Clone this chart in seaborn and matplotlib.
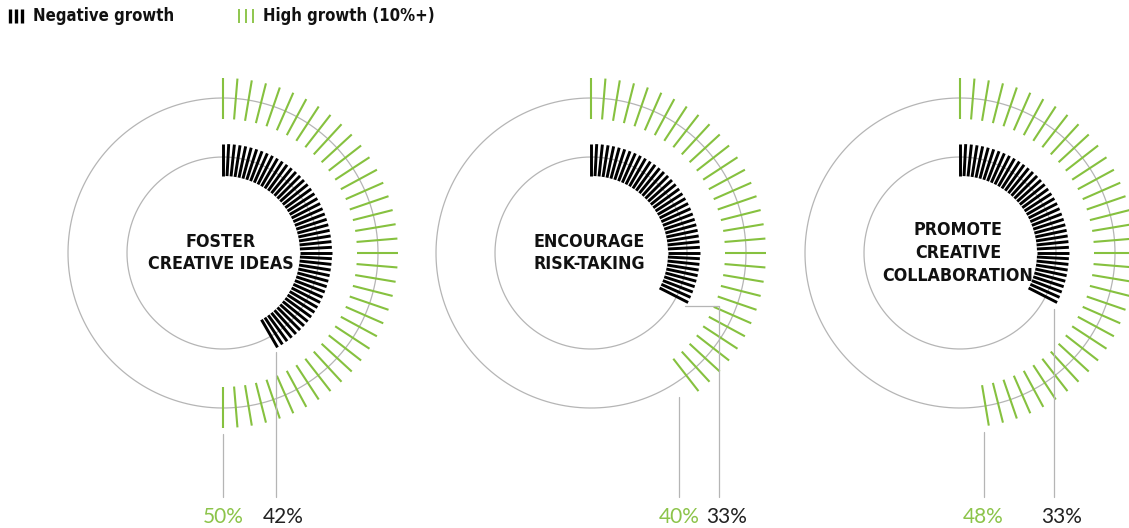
import numpy as np
import pandas as pd
import matplotlib.pyplot as plt
import matplotlib.font_manager as fm
import seaborn as sns

# chart data
categories = ["FOSTER\nCREATIVE IDEAS", "ENCOURAGE\nRISK-TAKING", "PROMOTE\nCREATIVE\nCOLLABORATION"]
high_growth = [50, 40, 48]       # % of firms, outer green ring
negative_growth = [42, 33, 33]   # % of firms, inner black ring
legend_labels = ["Negative growth", "High growth (10%+)"]

GREEN = "#86c13f"
GREEN_TXT = "#8cc44a"
GRAY = "#b5b5b5"

# look for a narrow/condensed bold face, fall back to Roboto bold
cond = [f for f in fm.fontManager.ttflist
        if ("Narrow" in f.name or "Condensed" in f.name or "Condensed" in f.fname
            or f.stretch in ("condensed", "semi-condensed"))]
cond_bold = [f for f in cond if f.weight in ("bold", 700, "heavy")] or cond
if cond_bold:
    COND = fm.FontProperties(fname=cond_bold[0].fname)
    cond_scale = 1.0
else:
    COND = fm.FontProperties(family="Roboto", weight="bold")
    cond_scale = 0.88

# layout (pixels)
centers_x = [223, 591, 960]
cy = 253
r_outer, r_inner = 155, 96
green_span = (134, 175)
black_span = (77, 109)
green_step = 360 / 76   # degrees between green ticks
black_step = 3.0        # degrees between black ticks
elbow_x = [None, 719, None]
label_y = 517
leader_bottom = 497


def tick_frame(cx, pct, step, r0, r1):
    angles = np.arange(0, pct / 100 * 360 + 1e-6, step)
    rows = []
    for i, a in enumerate(np.deg2rad(angles)):
        for r in (r0, r1):
            rows.append({"x": cx + r * np.sin(a), "y": cy - r * np.cos(a), "seg": i})
    return pd.DataFrame(rows), np.deg2rad(angles[-1])


def circle_frame(cx, r):
    t = np.linspace(0, 2 * np.pi, 400)
    return pd.DataFrame({"x": cx + r * np.sin(t), "y": cy - r * np.cos(t)})


sns.set_theme(style="white")
fig = plt.figure(figsize=(11.29, 5.28), dpi=100)
ax = fig.add_axes([0, 0, 1, 1])
ax.set_xlim(0, 1129)
ax.set_ylim(528, 0)
ax.set_aspect("equal")
ax.axis("off")

for i, cat in enumerate(categories):
    cx = centers_x[i]
    for r in (r_outer, r_inner):
        sns.lineplot(data=circle_frame(cx, r), x="x", y="y", sort=False, estimator=None,
                     color=GRAY, linewidth=0.9, ax=ax)

    g_df, g_last = tick_frame(cx, high_growth[i], green_step, *green_span)
    sns.lineplot(data=g_df, x="x", y="y", units="seg", estimator=None, sort=False,
                 color=GREEN, linewidth=1.5, solid_capstyle="butt", ax=ax)

    b_df, b_last = tick_frame(cx, negative_growth[i], black_step, *black_span)
    sns.lineplot(data=b_df, x="x", y="y", units="seg", estimator=None, sort=False,
                 color="black", linewidth=2.1, solid_capstyle="butt", ax=ax)

    # green leader
    gx = cx + 143 * np.sin(g_last)
    gy = cy - green_span[1] * np.cos(g_last) + 6
    ax.plot([gx, gx], [gy, leader_bottom], color=GRAY, lw=0.9)
    ax.text(gx, label_y, f"{high_growth[i]}%", color=GREEN_TXT, fontsize=15,
            family=["Lato", "DejaVu Sans"], ha="center", va="center")

    # black leader
    bx = cx + 105 * np.sin(b_last)
    by = cy - 105 * np.cos(b_last)
    if elbow_x[i] is None:
        ax.plot([bx, bx], [by + 8, leader_bottom], color=GRAY, lw=0.9)
        lx = bx
    else:
        ax.plot([bx, elbow_x[i], elbow_x[i]], [by + 5, by + 5, leader_bottom], color=GRAY, lw=0.9)
        lx = elbow_x[i]
    ax.text(lx + 8, label_y, f"{negative_growth[i]}%", color="#222222", fontsize=15,
            family=["Lato", "DejaVu Sans"], ha="center", va="center")

    ax.text(cx - 2, cy, cat, fontproperties=COND, fontsize=12.8 * cond_scale,
            ha="center", va="center", linespacing=1.35, color="#111111")

# legend: three bars + label for each ring
for k in range(3):
    ax.plot([10 + 6 * k, 10 + 6 * k], [9, 23], color="black", lw=2.4, solid_capstyle="butt")
    ax.plot([239 + 7 * k, 239 + 7 * k], [9, 23], color=GREEN, lw=1.3, solid_capstyle="butt")
ax.text(33, 16, legend_labels[0], fontproperties=COND, fontsize=12 * cond_scale, va="center", color="#111111")
ax.text(263, 16, legend_labels[1], fontproperties=COND, fontsize=12 * cond_scale, va="center", color="#111111")

fig.savefig("out.png", dpi=100, facecolor="white")
